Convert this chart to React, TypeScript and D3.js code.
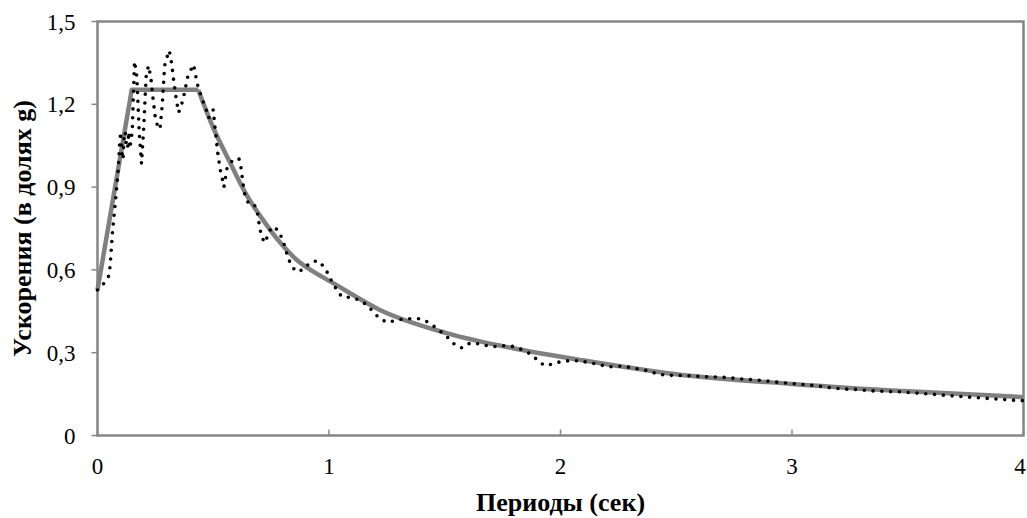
import React from "react";
import * as d3 from "d3";

// Dotted series: measured response spectrum (period s, acceleration g)
const measT = [0, 0.03, 0.05, 0.055, 0.065, 0.08, 0.09, 0.095, 0.1, 0.105, 0.11, 0.115, 0.12, 0.125, 0.13, 0.135, 0.14, 0.15, 0.16, 0.17, 0.18, 0.19, 0.2, 0.21, 0.22, 0.23, 0.24, 0.25, 0.26, 0.27, 0.28, 0.29, 0.3, 0.31, 0.32, 0.33, 0.34, 0.35, 0.36, 0.37, 0.38, 0.39, 0.4, 0.415, 0.425, 0.435, 0.443, 0.456, 0.47, 0.48, 0.49, 0.5, 0.507, 0.52, 0.53, 0.54, 0.546, 0.56, 0.586, 0.611, 0.62, 0.629, 0.637, 0.65, 0.672, 0.689, 0.7, 0.709, 0.723, 0.737, 0.752, 0.78, 0.796, 0.81, 0.82, 0.834, 0.856, 0.888, 0.918, 0.951, 0.978, 0.996, 1.013, 1.033, 1.055, 1.094, 1.13, 1.164, 1.19, 1.216, 1.249, 1.285, 1.32, 1.357, 1.393, 1.43, 1.461, 1.49, 1.52, 1.547, 1.575, 1.609, 1.648, 1.686, 1.724, 1.763, 1.8, 1.837, 1.868, 1.9, 1.93, 1.966, 2.002, 2.04, 2.076, 2.117, 2.156, 2.192, 2.227, 2.266, 2.304, 2.335, 2.382, 2.417, 2.456, 2.495, 2.53, 2.571, 2.61, 2.646, 2.685, 2.724, 2.761, 2.8, 2.84, 2.875, 2.917, 2.956, 2.994, 3.03, 3.069, 3.108, 3.147, 3.186, 3.225, 3.262, 3.301, 3.337, 3.376, 3.414, 3.452, 3.5, 3.6, 3.7, 3.8, 3.9, 4.0];
const measA = [0.527, 0.553, 0.58, 0.62, 0.74, 0.87, 0.97, 1.05, 1.1, 1.03, 1.0, 1.08, 1.1, 1.05, 1.04, 1.1, 1.04, 1.1, 1.356, 1.3, 1.1, 0.985, 1.12, 1.3, 1.34, 1.3, 1.22, 1.15, 1.12, 1.11, 1.2, 1.34, 1.37, 1.395, 1.35, 1.28, 1.22, 1.17, 1.19, 1.22, 1.26, 1.3, 1.32, 1.344, 1.3, 1.26, 1.242, 1.21, 1.18, 1.15, 1.17, 1.18, 1.12, 1.02, 0.963, 0.927, 0.9, 0.97, 1.0, 1.003, 0.97, 0.91, 0.87, 0.845, 0.843, 0.818, 0.756, 0.72, 0.698, 0.727, 0.756, 0.745, 0.716, 0.684, 0.651, 0.622, 0.594, 0.6, 0.626, 0.634, 0.612, 0.586, 0.557, 0.528, 0.503, 0.5, 0.491, 0.473, 0.449, 0.426, 0.41, 0.416, 0.422, 0.423, 0.423, 0.41, 0.391, 0.371, 0.35, 0.326, 0.317, 0.335, 0.332, 0.325, 0.322, 0.326, 0.322, 0.31, 0.296, 0.274, 0.253, 0.259, 0.268, 0.271, 0.271, 0.265, 0.259, 0.252, 0.248, 0.252, 0.246, 0.241, 0.234, 0.223, 0.218, 0.218, 0.217, 0.216, 0.213, 0.213, 0.211, 0.21, 0.206, 0.204, 0.201, 0.199, 0.195, 0.191, 0.189, 0.186, 0.183, 0.18, 0.175, 0.171, 0.168, 0.168, 0.165, 0.162, 0.161, 0.159, 0.159, 0.156, 0.15, 0.143, 0.137, 0.131, 0.126];

// Gray series: design spectrum
const designT = [0, 0.148, 0.435, 0.5, 0.572, 0.645, 0.72, 0.788, 0.861, 0.94, 1.018, 1.22, 1.508, 1.795, 2.084, 2.5, 3.0, 3.5, 4.0];
const designA = [0.527, 1.253, 1.253, 1.115, 0.99, 0.87, 0.775, 0.7, 0.636, 0.59, 0.552, 0.455, 0.371, 0.316, 0.274, 0.222, 0.187, 0.16, 0.139];

const xTicks = [0, 1, 2, 3, 4];
const yTicks = [0, 0.3, 0.6, 0.9, 1.2, 1.5];
const yTickLabels = ["0", "0,3", "0,6", "0,9", "1,2", "1,5"];
const xTitle = "Периоды (сек)";
const yTitle = "Ускорения (в долях g)";

export default function App() {
  const W = 1027, H = 518;
  const left = 97.5, right = 1023.5, top = 21.5, bottom = 435.5;
  const x = d3.scaleLinear().domain([0, 4]).range([left, right]);
  const y = d3.scaleLinear().domain([0, 1.5]).range([bottom, top]);

  const meas = measT.map((t, i) => [t, measA[i]] as [number, number]);
  const design = designT.map((t, i) => [t, designA[i]] as [number, number]);
  const cornerIdx = 2;

  const lin = d3.line<[number, number]>().x(d => x(d[0])).y(d => y(d[1]));
  const smooth = d3.line<[number, number]>().x(d => x(d[0])).y(d => y(d[1])).curve(d3.curveMonotoneX);

  const axisColor = "#868686";
  const serif: React.CSSProperties = { fontFamily: '"Liberation Serif", "DejaVu Serif", "Times New Roman", serif' };

  return (
    <svg width={W} height={H} style={{ position: "absolute", left: 0, top: 0, background: "#fff" }}>
      <rect x={0} y={0} width={W} height={H} fill="#fff" />
      {/* plot frame */}
      <rect x={left} y={top} width={right - left} height={bottom - top} fill="none" stroke={axisColor} strokeWidth={2.5} />
      {/* y ticks */}
      {yTicks.map((v, i) => (
        <g key={"y" + i}>
          <line x1={left - 6} x2={left} y1={y(v)} y2={y(v)} stroke={axisColor} strokeWidth={1.5} />
          <text x={left - 22} y={y(v) + 8} textAnchor="end" style={serif} fontSize={23} fill="#000">
            {yTickLabels[i]}
          </text>
        </g>
      ))}
      {/* x ticks */}
      {xTicks.map((v, i) => (
        <g key={"x" + i}>
          <line x1={x(v)} x2={x(v)} y1={bottom} y2={bottom - 6} stroke={axisColor} strokeWidth={1.5} />
          <text x={Math.min(x(v), W - 7)} y={bottom + 38} textAnchor="middle" style={serif} fontSize={23} fill="#000">
            {String(v)}
          </text>
        </g>
      ))}
      {/* design spectrum */}
      <path d={lin(design.slice(0, cornerIdx + 1)) || ""} fill="none" stroke="#808080" strokeWidth={4.5} strokeLinejoin="round" />
      <path d={smooth(design.slice(cornerIdx)) || ""} fill="none" stroke="#808080" strokeWidth={4.5} strokeLinejoin="round" />
      {/* measured spectrum */}
      <path d={lin(meas) || ""} fill="none" stroke="#000" strokeWidth={3.6} strokeDasharray="0 8.8" strokeLinecap="round" />
      {/* titles */}
      <text x={(left + right) / 2} y={511} textAnchor="middle" style={serif} fontWeight="bold" fontSize={26} fill="#000">
        {xTitle}
      </text>
      <text transform={`translate(31, ${(top + bottom) / 2}) rotate(-90)`} textAnchor="middle" style={serif} fontWeight="bold" fontSize={26} fill="#000">
        {yTitle}
      </text>
    </svg>
  );
}
